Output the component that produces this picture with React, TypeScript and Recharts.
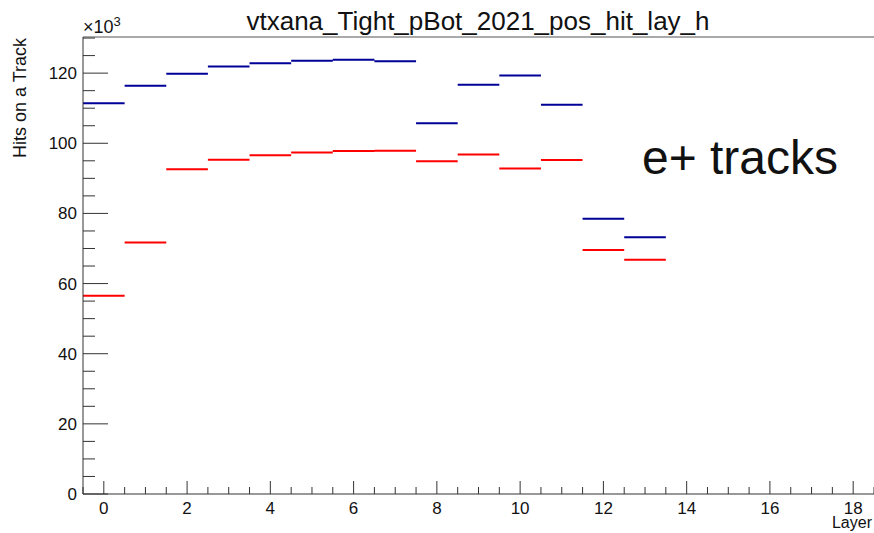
import React from "react";
import { ComposedChart, Line, XAxis, YAxis, ReferenceLine } from "recharts";

document.body.style.margin = "0";

// hits per layer, in units of 10^3
const layers = [0, 1, 2, 3, 4, 5, 6, 7, 8, 9, 10, 11, 12, 13];
const blueHits = [111.4, 116.4, 119.8, 121.9, 122.8, 123.5, 123.8, 123.4, 105.7, 116.7, 119.3, 111.0, 78.5, 73.2];
const redHits = [56.5, 71.7, 92.6, 95.3, 96.6, 97.4, 97.8, 97.9, 94.9, 96.8, 92.8, 95.2, 69.6, 66.8];

const xTicks = [-0.5, 0, 0.5, 1, 1.5, 2, 2.5, 3, 3.5, 4, 4.5, 5, 5.5, 6, 6.5, 7, 7.5, 8, 8.5, 9, 9.5, 10, 10.5, 11, 11.5, 12, 12.5, 13, 13.5, 14, 14.5, 15, 15.5, 16, 16.5, 17, 17.5, 18, 18.5];
const yTicks = [0, 5, 10, 15, 20, 25, 30, 35, 40, 45, 50, 55, 60, 65, 70, 75, 80, 85, 90, 95, 100, 105, 110, 115, 120, 125, 130];

const Y_MAX = 130.3;
const FONT = "'Liberation Sans', Arial, sans-serif";
const AXIS = "#333";

// each bin as a flat step from low edge to high edge, broken by a null
function steps(values: number[]) {
  const out: { x: number; y: number | null }[] = [];
  layers.forEach((l, i) => {
    out.push({ x: l - 0.5, y: values[i] });
    out.push({ x: l + 0.5, y: values[i] });
    out.push({ x: l + 0.5, y: null });
  });
  return out;
}

const blueData = steps(blueHits);
const redData = steps(redHits);

const XTick = (props: any) => {
  const { x, payload } = props;
  const v = payload.value;
  const major = v % 2 === 0;
  const len = major ? 13 : 7;
  return (
    <g>
      <line x1={x} x2={x} y1={494} y2={494 - len} stroke={AXIS} strokeWidth={1} />
      {major && (
        <text x={x} y={514} textAnchor="middle" fontSize={17} fontFamily={FONT} fill="#111">
          {v}
        </text>
      )}
    </g>
  );
};

const YTick = (props: any) => {
  const { y, payload } = props;
  const v = payload.value;
  const major = v % 20 === 0;
  const len = major ? 25 : 12;
  return (
    <g>
      <line x1={83} x2={83 + len} y1={y} y2={y} stroke={AXIS} strokeWidth={1} />
      {major && (
        <text x={77} y={y + 6} textAnchor="end" fontSize={17} fontFamily={FONT} fill="#111">
          {v}
        </text>
      )}
    </g>
  );
};

export default function App() {
  return (
    <div style={{ width: 874, height: 533, background: "#fff", position: "relative" }}>
      <ComposedChart
        width={874}
        height={533}
        margin={{ top: 37, right: 0, bottom: 0, left: 0 }}
      >
        <XAxis
          type="number"
          dataKey="x"
          domain={[-0.5, 18.5]}
          ticks={xTicks}
          interval={0}
          height={39}
          tick={<XTick />}
          tickLine={false}
          axisLine={{ stroke: AXIS }}
          allowDuplicatedCategory={false}
        />
        <YAxis
          type="number"
          domain={[0, Y_MAX]}
          ticks={yTicks}
          interval={0}
          width={83}
          tick={<YTick />}
          tickLine={false}
          axisLine={{ stroke: AXIS }}
          allowDataOverflow
        />
        <ReferenceLine y={Y_MAX} stroke="#555" strokeWidth={1} />
        <Line
          data={blueData}
          dataKey="y"
          type="linear"
          stroke="#000099"
          strokeWidth={2}
          dot={false}
          connectNulls={false}
          isAnimationActive={false}
        />
        <Line
          data={redData}
          dataKey="y"
          type="linear"
          stroke="#ff0000"
          strokeWidth={2}
          dot={false}
          connectNulls={false}
          isAnimationActive={false}
        />
        <text x={478} y={30} textAnchor="middle" fontSize={26} fontFamily={FONT} fill="#111">
          vtxana_Tight_pBot_2021_pos_hit_lay_h
        </text>
        <text x={83} y={33} fontSize={18} fontFamily={FONT} fill="#111">
          ×10<tspan dy={-7} fontSize={13}>3</tspan>
        </text>
        <text
          x={26}
          y={38}
          transform="rotate(-90 26 38)"
          textAnchor="end"
          fontSize={18}
          fontFamily={FONT}
          fill="#111"
        >
          Hits on a Track
        </text>
        <text x={872} y={528} textAnchor="end" fontSize={16} fontFamily={FONT} fill="#111">
          Layer
        </text>
        <text x={740} y={174} textAnchor="middle" fontSize={48} fontFamily={FONT} fill="#111">
          e+ tracks
        </text>
      </ComposedChart>
    </div>
  );
}
